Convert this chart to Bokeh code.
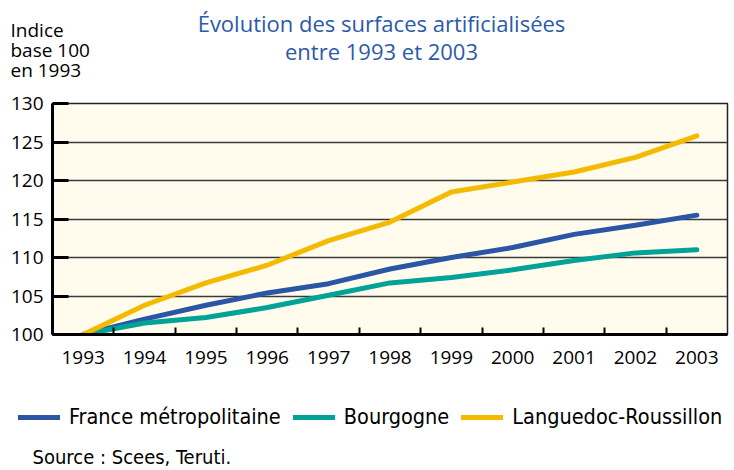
from bokeh.plotting import figure
from bokeh.models import (Range1d, FixedTicker, Legend, LegendItem, Label)
from bokeh.layouts import column, row
from bokeh.embed import file_html
from bokeh.resources import INLINE

years = [1993, 1994, 1995, 1996, 1997, 1998, 1999, 2000, 2001, 2002, 2003]
france = [100, 102.0, 103.8, 105.4, 106.6, 108.5, 110.0, 111.3, 113.0, 114.2, 115.5]
bourgogne = [100, 101.5, 102.2, 103.5, 105.1, 106.7, 107.4, 108.4, 109.6, 110.6, 111.0]
languedoc = [100, 103.8, 106.7, 109.0, 112.2, 114.6, 118.5, 119.8, 121.1, 123.0, 125.8]
y_ticks = [100, 105, 110, 115, 120, 125, 130]
series_names = ["France métropolitaine", "Bourgogne", "Languedoc-Roussillon"]
colors = ["#2B56A5", "#00A396", "#F4BA00"]
title_lines = ["Évolution des surfaces artificialisées", "entre 1993 et 2003"]
ylabel_lines = ["Indice", "base 100", "en 1993"]
source_text = "Source : Scees, Teruti."

W = 734
H_TOP, H_MAIN, H_BOT = 91, 288, 91
FONT = "Open Sans"
NARROW = "DejaVu Sans Condensed"


def blank(h):
    f = figure(width=W, height=h, output_backend="svg", toolbar_location=None,
               x_range=Range1d(0, W), y_range=Range1d(0, h),
               x_axis_type=None, y_axis_type=None,
               min_border=0, min_border_left=0, min_border_right=0,
               min_border_top=0, min_border_bottom=0)
    f.outline_line_color = None
    f.xgrid.grid_line_color = None
    f.ygrid.grid_line_color = None
    f.background_fill_color = "white"
    f.border_fill_color = "white"
    return f


# ---- header ----
top = blank(H_TOP)
for t, yb in zip(title_lines, [69, 41]):
    top.add_layout(Label(x=381, y=yb, text=t,
                         text_align="center", text_baseline="alphabetic", text_font=FONT,
                         text_font_size="22px", text_color="#2C5AA7"))
for t, yb in zip(ylabel_lines, [62, 42, 22]):
    top.add_layout(Label(x=10, y=yb, text=t,
                         text_align="left", text_baseline="alphabetic", text_font=FONT,
                         text_font_size="19px", text_color="black"))

# ---- main chart ----
p = figure(width=W, height=H_MAIN, output_backend="svg", toolbar_location=None,
           x_range=Range1d(years[0] - 0.5, years[-1] + 0.5),
           y_range=Range1d(y_ticks[0], y_ticks[-1]),
           min_border_left=52, min_border_right=7, min_border_top=12,
           min_border_bottom=45)
p.border_fill_color = "white"
p.background_fill_color = "#FFFCEE"
p.outline_line_color = "#222222"
p.outline_line_width = 1.5

p.yaxis.ticker = FixedTicker(ticks=y_ticks)
p.yaxis.major_tick_in = 16
p.yaxis.major_tick_out = 0
p.yaxis.major_tick_line_width = 3
p.yaxis.minor_tick_line_color = None
p.yaxis.axis_line_width = 3
p.yaxis.major_label_text_font = FONT
p.yaxis.major_label_text_font_size = "19px"
p.yaxis.major_label_text_color = "black"
p.yaxis.major_label_standoff = 9

p.xaxis.ticker = FixedTicker(ticks=years, minor_ticks=[y + 0.5 for y in years[:-1]])
p.xaxis.major_tick_line_color = None
p.xaxis.minor_tick_in = 7
p.xaxis.minor_tick_out = 0
p.xaxis.minor_tick_line_width = 2
p.xaxis.minor_tick_line_color = "black"
p.xaxis.axis_line_width = 3
p.xaxis.major_label_text_font = FONT
p.xaxis.major_label_text_font_size = "19px"
p.xaxis.major_label_text_color = "black"
p.xaxis.major_label_standoff = 10

p.xgrid.grid_line_color = None
p.ygrid.grid_line_color = "#3a3a3a"
p.ygrid.grid_line_width = 1.5

for vals, col in zip([france, bourgogne, languedoc], colors):
    p.line(years, vals, line_color=col, line_width=5, line_cap="round", line_join="round")

# ---- footer: legend + source ----
bot = blank(H_BOT)
nan = float("nan")
leg_r = [bot.line([nan], [nan], line_color=c, line_width=5, line_cap="round") for c in colors]
legend = Legend(items=[LegendItem(label=n, renderers=[r]) for n, r in zip(series_names, leg_r)],
                orientation="horizontal", location=(18, 41))
legend.label_text_font = NARROW
legend.label_text_font_size = "21.5px"
legend.label_text_color = "black"
legend.glyph_width = 42
legend.label_standoff = 9
legend.spacing = 12
legend.padding = 0
legend.margin = 0
legend.border_line_color = None
legend.background_fill_alpha = 0
bot.add_layout(legend)
bot.add_layout(Label(x=32, y=14, text=source_text,
                     text_align="left", text_baseline="alphabetic", text_font=NARROW,
                     text_font_size="20px", text_color="black"))

layout = column(row(top), p, row(bot), spacing=0)
open("out.html", "w").write(file_html(layout, INLINE))
